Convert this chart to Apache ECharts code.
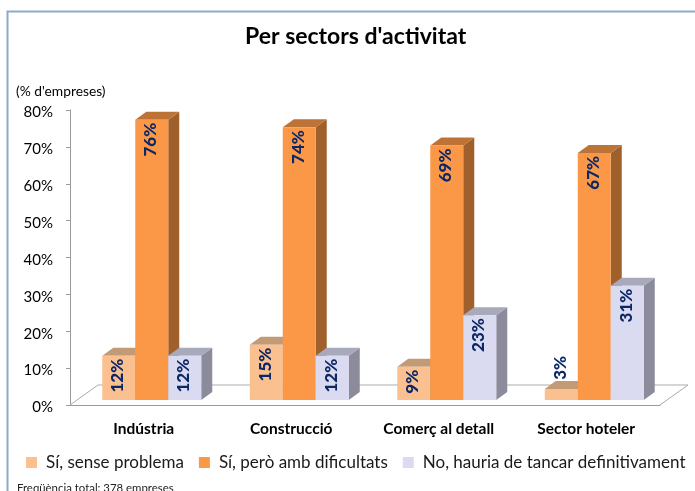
<!DOCTYPE html>
<html><head><meta charset="utf-8">
<style>html,body{margin:0;padding:0;background:#fff;overflow:hidden}#c{width:695px;height:491px}</style>
<script src="https://cdn.jsdelivr.net/npm/echarts@6/dist/echarts.min.js"></script>
</head><body><div id="c"></div>
<script>
const categories = ["Indústria", "Construcció", "Comerç al detall", "Sector hoteler"];
const seriesNames = ["Sí, sense problema", "Sí, però amb dificultats", "No, hauria de tancar definitivament"];
const sensProblema = [12, 15, 9, 3];
const ambDificultats = [76, 74, 69, 67];
const tancar = [12, 12, 23, 31];
const yTicks = { min: 0, max: 80, interval: 10 };
const palette = [
  { front: "#FAC090", top: "#C39A76", side: "#A8805C" },
  { front: "#FB9848", top: "#BE7336", side: "#A0602C" },
  { front: "#DADBF0", top: "#A9A9BC", side: "#8B8B9C" }
];
const DX = 11, DY = 8, LIFT = 5, SHIFT = 8, FONT = "Lato";

function barRender(idx) {
  return function (params, api) {
    const cat = api.value(0), val = api.value(1);
    const base = api.coord([cat, 0]), top = api.coord([cat, val]);
    const w = api.size([1, 0])[0] * 0.2237;
    const x0 = base[0] + SHIFT + (idx - 1.5) * w, x1 = x0 + w;
    const yb = base[1] - LIFT, yt = top[1] - LIFT;
    const c = palette[idx];
    const small = val < 5;
    const labelY = small ? yt - 33 : yt + 3;
    return { type: "group", children: [
      { type: "polygon", shape: { points: [[x1, yb], [x1 + DX, yb - DY], [x1 + DX, yt - DY], [x1, yt]] }, style: { fill: c.side } },
      { type: "polygon", shape: { points: [[x0, yt], [x0 + DX, yt - DY], [x1 + DX, yt - DY], [x1, yt]] }, style: { fill: c.top } },
      { type: "rect", shape: { x: x0, y: yt, width: w, height: yb - yt }, style: { fill: c.front } },
      { type: "text", x: x0 + w / 2 - 1, y: labelY, rotation: Math.PI / 2, z2: 10,
        style: { text: val + "%", align: "right", verticalAlign: "middle", fill: "#0B2766",
                 fontFamily: FONT, fontSize: 17, fontWeight: 900 } }
    ] };
  };
}
function floorRender(params, api) {
  const a = api.coord([0, 0]), s = api.size([1, 0])[0];
  const x0 = a[0] - s / 2, x1 = x0 + 4 * s, y = a[1];
  const st = { stroke: "#ABABAB", lineWidth: 1, fill: null };
  return { type: "polyline", shape: { points: [[x0, y], [x0 + 28, y - 20], [x1 + 28, y - 20], [x1, y]] }, style: st };
}
function barSeries(name, values, idx) {
  return { name, type: "custom", renderItem: barRender(idx), z: 3 + idx,
    itemStyle: { color: palette[idx].front },
    encode: { x: 0, y: 1 }, data: values.map((v, i) => [i, v]) };
}
const chart = echarts.init(document.getElementById("c"), null, { renderer: "canvas" });
chart.setOption({
  animation: false,
  backgroundColor: "#fff",
  textStyle: { fontFamily: FONT },
  title: { text: "Per sectors d'activitat", left: 240, top: 20,
    textStyle: { fontFamily: FONT, fontSize: 23, fontWeight: "bold", color: "#000" } },
  legend: { left: 21, top: 449, itemWidth: 11, itemHeight: 11, itemGap: 15, icon: "rect",
    data: seriesNames, textStyle: { fontFamily: FONT, fontSize: 17, color: "#1a1a1a", padding: [0, 0, 0, 4] } },
  grid: { left: 70, right: 35, top: 110, bottom: 86 },
  xAxis: { type: "category", data: categories,
    axisLine: { lineStyle: { color: "#9A9A9A" } },
    axisTick: { alignWithLabel: false, length: 5, lineStyle: { color: "#9A9A9A" } },
    axisLabel: { fontFamily: FONT, fontSize: 15.5, fontWeight: "bold", color: "#000", margin: 16 } },
  yAxis: { type: "value", min: yTicks.min, max: yTicks.max, interval: yTicks.interval,
    splitLine: { show: false },
    axisLine: { show: true, lineStyle: { color: "#9A9A9A" } },
    axisTick: { show: true, length: 4, lineStyle: { color: "#9A9A9A" } },
    axisLabel: { margin: 17, formatter: "{t|{value}%}",
      rich: { t: { fontFamily: FONT, fontSize: 15, color: "#000", padding: [5, 0, 0, 0] } } } },
  series: [
    { name: "floor", type: "custom", renderItem: floorRender, silent: true, z: 1, data: [[0, 0]], encode: { x: 0, y: 1 } },
    barSeries(seriesNames[0], sensProblema, 0),
    barSeries(seriesNames[1], ambDificultats, 1),
    barSeries(seriesNames[2], tancar, 2)
  ],
  graphic: [
    { type: "polyline", shape: { points: [[7.5, 491], [7.5, 11.5], [695, 11.5]] }, style: { stroke: "#8FA9CC", lineWidth: 2, fill: null }, silent: true },
    { type: "text", x: 16, y: 85, style: { text: "(% d'empreses)", fontFamily: FONT, fontSize: 13.8, fill: "#000" }, silent: true },
    { type: "text", x: 17, y: 483, style: { text: "Freqüència total: 378 empreses", fontFamily: FONT, fontSize: 11.4, fill: "#222" }, silent: true }
  ]
});
</script></body></html>
